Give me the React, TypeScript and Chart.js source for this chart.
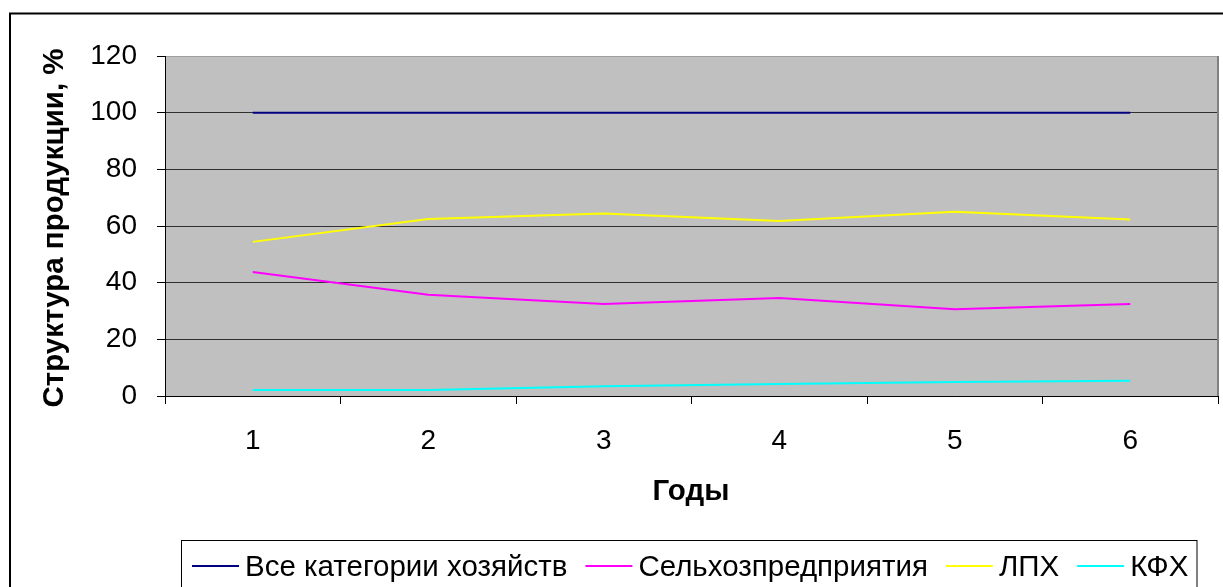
import { useEffect, useRef } from "react";
import { Chart, registerables } from "chart.js";

Chart.register(...registerables);

const years = ["1", "2", "3", "4", "5", "6"];
const allCategories = [100, 100, 100, 100, 100, 100];
const agriEnterprises = [43.8, 35.7, 32.5, 34.6, 30.6, 32.5];
const households = [54.4, 62.5, 64.4, 61.8, 65.0, 62.3];
const peasantFarms = [2.1, 2.1, 3.4, 4.2, 4.9, 5.4];
const seriesNames = ["Все категории хозяйств", "Сельхозпредприятия", "ЛПХ", "КФХ"];
const seriesColors = ["#000080", "#FF00FF", "#FFFF00", "#00FFFF"];
const yMin = 0;
const yMax = 120;
const yStep = 20;
const xTitle = "Годы";
const yTitle = "Структура продукции, %";

const FONT = "'Liberation Sans', Arial, sans-serif";

const decorPlugin = {
  id: "excelDecor",
  beforeDraw(chart: any) {
    const { ctx, chartArea: a, width, height } = chart;
    ctx.save();
    ctx.fillStyle = "#ffffff";
    ctx.fillRect(0, 0, width, height);
    ctx.fillStyle = "#C0C0C0";
    ctx.fillRect(a.left, a.top, a.right - a.left, a.bottom - a.top);
    // outer chart border
    ctx.strokeStyle = "#000000";
    ctx.lineWidth = 2;
    ctx.strokeRect(10, 13.5, width + 40, height + 40);
    ctx.restore();
  },
  afterDraw(chart: any) {
    const { ctx, chartArea: a } = chart;
    ctx.save();
    // plot area right border
    ctx.strokeStyle = "#808080";
    ctx.lineWidth = 2;
    ctx.beginPath();
    ctx.moveTo(a.right, a.top);
    ctx.lineTo(a.right, a.bottom);
    ctx.stroke();

    // axis titles
    ctx.fillStyle = "#000";
    ctx.font = `bold 29.5px ${FONT}`;
    ctx.textAlign = "center";
    ctx.textBaseline = "alphabetic";
    ctx.fillText(xTitle, 691, 500);
    ctx.save();
    ctx.translate(63, 228);
    ctx.rotate(-Math.PI / 2);
    ctx.fillText(yTitle, 0, 0);
    ctx.restore();

    // legend
    ctx.strokeStyle = "#000";
    ctx.lineWidth = 1;
    ctx.strokeRect(181.5, 540.5, 1197 - 181.5, 80);
    ctx.font = `29.5px ${FONT}`;
    ctx.textAlign = "left";
    let x = 192;
    const ly = 566;
    chart.data.datasets.forEach((ds: any) => {
      ctx.strokeStyle = ds.borderColor;
      ctx.lineWidth = 2;
      ctx.beginPath();
      ctx.moveTo(x, ly);
      ctx.lineTo(x + 47, ly);
      ctx.stroke();
      x += 53;
      ctx.fillStyle = "#000";
      ctx.fillText(ds.label, x, 576);
      x += ctx.measureText(ds.label).width + 18;
    });
    ctx.restore();
  },
};

export default function App() {
  const ref = useRef<HTMLCanvasElement>(null);
  useEffect(() => {
    if (!ref.current) return;
    const seriesData = [allCategories, agriEnterprises, households, peasantFarms];
    const chart = new Chart(ref.current, {
      type: "line",
      data: {
        labels: years,
        datasets: seriesData.map((d, i) => ({
          label: seriesNames[i],
          data: d,
          borderColor: seriesColors[i],
          backgroundColor: seriesColors[i],
          borderWidth: 2,
          pointRadius: 0,
          tension: 0,
          fill: false,
        })),
      },
      options: {
        responsive: false,
        animation: false,
        devicePixelRatio: 1,
        layout: { padding: { top: 56, right: 5, left: 0, bottom: 0 } },
        plugins: {
          legend: { display: false },
          tooltip: { enabled: false },
          title: { display: false },
        },
        scales: {
          x: {
            type: "category",
            offset: true,
            grid: {
              offset: true,
              drawOnChartArea: false,
              drawTicks: true,
              tickLength: 8,
              tickColor: "#000",
            },
            border: { color: "#000", width: 1 },
            ticks: {
              color: "#000",
              font: { family: FONT, size: 28 },
              padding: 20,
              maxRotation: 0,
            },
            afterFit(scale: any) {
              scale.height = 191;
            },
          },
          y: {
            min: yMin,
            max: yMax,
            ticks: {
              stepSize: yStep,
              color: "#000",
              font: { family: FONT, size: 28 },
              padding: 20,
            },
            grid: {
              color: (c: any) => (c.tick && c.tick.value === yMax ? "#A0A0A0" : "#303030"),
              lineWidth: 1,
              tickLength: 8,
              tickColor: "#000",
            },
            border: { color: "#000", width: 1 },
            afterFit(scale: any) {
              scale.width = 165;
            },
          },
        },
      },
      plugins: [decorPlugin],
    });
    return () => chart.destroy();
  }, []);
  return (
    <div style={{ position: "absolute", left: 0, top: 0, width: 1223, height: 587, overflow: "hidden" }}>
      <canvas ref={ref} width={1223} height={587} style={{ display: "block", width: 1223, height: 587 }} />
    </div>
  );
}
